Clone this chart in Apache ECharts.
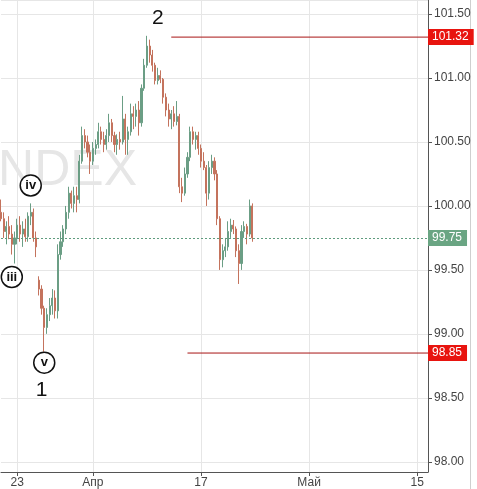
<!DOCTYPE html>
<html><head><meta charset="utf-8">
<script src="https://cdn.jsdelivr.net/npm/echarts@6/dist/echarts.min.js"></script>
<style>html,body{margin:0;padding:0;background:#fff}#c{width:477px;height:489px}</style>
</head><body><div id="c"></div>
<script>
// 6-hour candles, first candle = 2017-03-21 12:00
const opens = [99.95,99.90,99.80,99.84,99.78,99.70,99.75,99.85,99.78,99.82,
  99.76,99.92,99.95,99.75,99.42,99.35,99.20,99.05,99.15,99.22,
  99.28,99.18,99.62,99.72,99.82,99.95,100.10,100.02,100.08,100.05,
  100.35,100.55,100.50,100.42,100.35,100.45,100.48,100.58,100.52,100.48,
  100.55,100.65,100.55,100.48,100.52,100.50,100.68,100.52,100.58,100.72,
  100.70,100.75,100.65,100.92,101.10,101.25,101.18,101.10,100.98,101.02,
  100.99,100.85,100.75,100.68,100.72,100.66,100.70,100.15,100.10,100.25,
  100.38,100.58,100.52,100.55,100.45,100.35,100.30,100.10,100.30,100.35,
  100.25,99.90,99.58,99.65,99.68,99.80,99.85,99.82,99.65,99.55,
  99.80,99.84,99.78,100.00];
const closes = [99.90,99.80,99.84,99.78,99.70,99.75,99.85,99.78,99.82,99.76,
  99.92,99.95,99.75,99.68,99.35,99.20,99.05,99.15,99.22,99.28,
  99.18,99.62,99.72,99.82,99.95,100.10,100.02,100.08,100.05,100.35,
  100.55,100.50,100.42,100.35,100.45,100.48,100.58,100.52,100.48,100.55,
  100.65,100.55,100.48,100.52,100.50,100.68,100.52,100.58,100.72,100.70,
  100.75,100.65,100.92,101.10,101.25,101.18,101.10,100.98,101.02,100.99,
  100.85,100.75,100.68,100.72,100.66,100.70,100.15,100.10,100.25,100.38,
  100.58,100.52,100.55,100.45,100.35,100.30,100.10,100.30,100.35,100.25,
  99.90,99.58,99.65,99.68,99.80,99.85,99.82,99.65,99.55,99.80,
  99.84,99.78,100.00,99.75];
const highs = [100.05,99.95,99.88,99.92,99.85,99.80,99.90,99.92,99.88,99.90,
  99.95,100.02,99.98,99.80,99.45,99.38,99.22,99.20,99.28,99.35,
  99.34,99.70,99.80,99.85,100.00,100.15,100.12,100.15,100.15,100.40,
  100.62,100.60,100.55,100.48,100.50,100.52,100.65,100.62,100.58,100.60,
  100.72,100.68,100.58,100.56,100.58,100.86,100.72,100.62,100.80,100.78,
  100.80,100.82,100.95,101.15,101.33,101.30,101.22,101.12,101.08,101.06,
  101.00,100.88,100.80,100.75,100.78,100.82,100.72,100.22,100.30,100.42,
  100.62,100.62,100.58,100.58,100.48,100.42,100.32,100.35,100.40,100.38,
  100.28,99.92,99.70,99.75,99.88,99.90,99.89,99.84,99.70,99.85,
  99.88,99.86,100.05,100.02];
const lows = [99.88,99.75,99.70,99.74,99.62,99.55,99.70,99.72,99.68,99.72,
  99.72,99.85,99.72,99.60,99.30,99.15,98.86,99.00,99.10,99.15,
  99.12,99.12,99.58,99.68,99.78,99.90,99.98,99.95,99.95,100.02,
  100.33,100.45,100.38,100.25,100.32,100.40,100.45,100.48,100.42,100.44,
  100.50,100.50,100.42,100.40,100.44,100.48,100.40,100.40,100.55,100.60,
  100.62,100.55,100.62,100.90,101.08,101.12,101.05,100.95,100.95,100.96,
  100.80,100.70,100.62,100.60,100.62,100.63,100.10,100.03,100.08,100.22,
  100.35,100.48,100.44,100.40,100.30,100.28,100.00,100.05,100.25,100.20,
  99.85,99.50,99.52,99.60,99.65,99.75,99.78,99.60,99.39,99.50,
  99.75,99.70,99.76,99.72];
const tickLabels = {'2017-03-23':'23','2017-04-03':'Апр','2017-04-17':'17','2017-05-01':'Май','2017-05-15':'15'};
const levelHigh = 101.32, levelHighFrom = '2017-04-12 06:00';
const levelLow = 98.85, levelLowFrom = '2017-04-13 18:00';
const lastPrice = 99.75;
const waveTexts = ['2','1','iv','iii','v'];
const waveAt = [['2017-04-11 00:00',101.47],['2017-03-27 06:00',98.56],['2017-03-24 06:00',100.16],['2017-03-22 12:00',99.445],['2017-03-27 12:00',98.775]];
const waveCircled = [false,false,true,true,true];

// trading-day 6h categories
const cats = [];
const d = new Date(Date.UTC(2017,2,21));
let first = true;
while (cats.length < 159) {
  const wd = d.getUTCDay();
  if (wd !== 0 && wd !== 6) {
    const ds = d.toISOString().slice(0,10);
    for (let p = 0; p < 4; p++) {
      if (first && p < 2) continue;
      cats.push(ds + ' ' + String(p*6).padStart(2,'0') + ':00');
    }
    first = false;
  }
  d.setUTCDate(d.getUTCDate()+1);
}
cats.length = 159;
const lastCat = cats[cats.length-1];
const isTick = (v) => v.endsWith(' 00:00') && tickLabels[v.slice(0,10)] !== undefined;
const tickIdx = (i) => isTick(cats[i]);

const candles = opens.map((o,i) => [o, closes[i], lows[i], highs[i]]);
const FONT = '"Liberation Sans", Arial, sans-serif';
const up = '#6b9e85', dn = '#c4735d';
const redLine = '#a81414', redBox = '#e8140f', greenBox = '#6aa583';

const boxLabel = (txt, bg) => ({show:true, formatter: txt, distance:0,
  backgroundColor: bg, color:'#fff', fontSize:12, fontFamily: FONT, padding:[2,5,2,4], lineHeight:12});

const levelSeries = (from, val, txt) => ({
  type:'line', data:[[from, val],[lastCat, val]], symbol:'none', silent:true, z:3,
  lineStyle:{color:redLine, width:1}, itemStyle:{color:redLine},
  endLabel: Object.assign(boxLabel(txt, redBox), {distance:0})
});

const chart = echarts.init(document.getElementById('c'), null, {renderer:'canvas'});
chart.setOption({
  animation:false,
  backgroundColor:'#fff',
  grid:{left:1, right:49, top:0, bottom:17},
  graphic:[
    {type:'text', z:0, silent:true, style:{x:137, y:171, text:'INDEX', textAlign:'right', textVerticalAlign:'middle',
      font:'normal 50px "Liberation Sans", Arial, sans-serif', fill:'#e6e6e6'}},
    {type:'line', silent:true, shape:{x1:470.5,y1:0,x2:470.5,y2:489}, style:{stroke:'#cfcfcf', lineWidth:1}}
  ],
  xAxis:{type:'category', data:cats, boundaryGap:false,
    axisLine:{lineStyle:{color:'#555'}},
    axisTick:{show:true, length:4, interval:(i)=>tickIdx(i), lineStyle:{color:'#555'}},
    axisLabel:{interval:(i)=>tickIdx(i), formatter:(v)=>tickLabels[v.slice(0,10)], color:'#444', fontSize:12, fontFamily:FONT, margin:5},
    splitLine:{show:true, interval:(i)=>tickIdx(i), lineStyle:{color:'#e6e6e6'}}
  },
  yAxis:{type:'value', position:'right', min:97.92, max:101.61, splitNumber:7, minInterval:0.5, maxInterval:0.5, scale:true,
    axisLine:{show:true, lineStyle:{color:'#555'}},
    axisTick:{show:true, length:4, lineStyle:{color:'#555'}},
    axisLabel:{color:'#444', fontSize:12, fontFamily:FONT, margin:6, showMinLabel:false, showMaxLabel:false, formatter:(v)=>v.toFixed(2)},
    splitLine:{lineStyle:{color:'#e6e6e6'}}
  },
  series:[{
    type:'candlestick', data:candles, barWidth:1.6,
    itemStyle:{color:up, color0:dn, borderColor:up, borderColor0:dn, borderWidth:1},
    markLine:{symbol:'none', silent:true, animation:false,
      data:[
        {yAxis:lastPrice, lineStyle:{color:'#5f9c7e', width:1, type:[2,2]}, label: Object.assign(boxLabel('99.75',greenBox), {position:'end'})}
      ]},
    markPoint:{silent:true, animation:false,
      data: waveTexts.map((t,k)=>({
        coord: waveAt[k],
        symbol:'circle',
        symbolSize: waveCircled[k] ? 21 : 1,
        itemStyle: waveCircled[k] ? {color:'#fff', borderColor:'#111', borderWidth:1.5} : {color:'rgba(0,0,0,0)'},
        label:{show:true, position:'inside', formatter:t, color:'#111', fontFamily:FONT,
          fontSize: waveCircled[k] ? 13 : 21, fontWeight: waveCircled[k] ? 'bold' : 'normal'}
      }))
    }
  },
  levelSeries(levelHighFrom, levelHigh, '101.32'),
  levelSeries(levelLowFrom, levelLow, '98.85')
  ]
});
</script>
</body></html>
